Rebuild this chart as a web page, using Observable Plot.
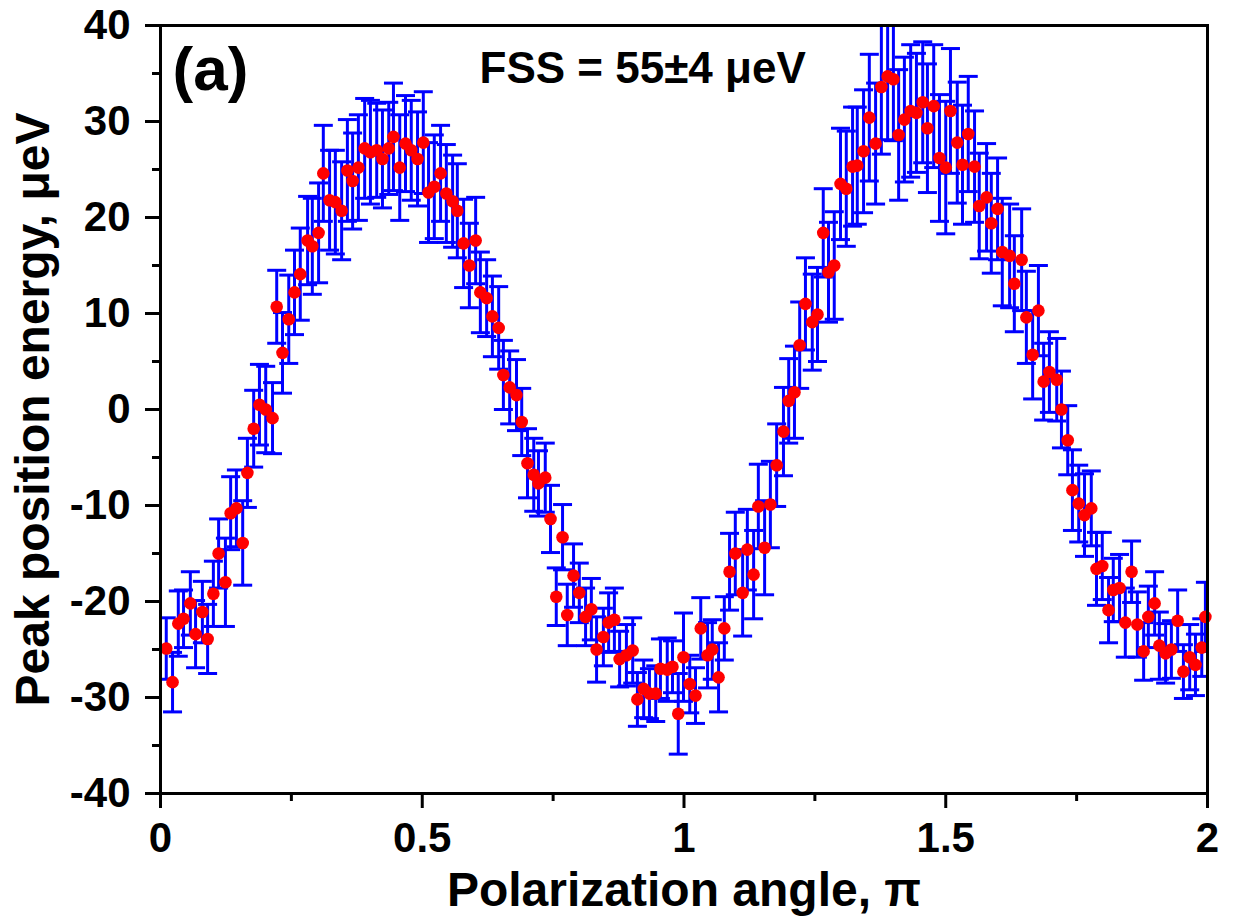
<!DOCTYPE html>
<html>
<head>
<meta charset="utf-8">
<script src="https://cdn.jsdelivr.net/npm/d3@7"></script>
<script src="https://cdn.jsdelivr.net/npm/@observablehq/plot@0.6"></script>
<style>
  html, body { margin: 0; padding: 0; background: #ffffff; }
  #chart { width: 1236px; height: 924px; }
</style>
</head>
<body>
<div id="chart"></div>
<script>
// Polarization angle (units of π)
const angle = [
  0.011,0.023,0.034,0.044,0.057,0.067,0.080,0.090,0.101,0.111,
  0.124,0.134,0.145,0.157,0.166,0.178,0.189,0.201,0.214,0.222,0.233,0.245,0.256,0.267,0.281,0.290,0.302,
  0.311,0.323,0.334,0.346,0.357,0.367,0.378,0.390,0.401,0.413,0.424,0.436,0.445,0.457,0.468,0.479,0.491,0.502,0.512,0.523,0.535,0.546,0.558,0.567,
  0.579,0.590,0.602,0.611,0.623,0.634,0.646,0.655,0.667,0.680,0.690,0.701,0.713,0.722,0.735,0.745,
  0.756,0.768,0.777,0.789,0.800,0.812,0.823,0.833,0.846,0.856,0.867,0.877,0.890,0.902,0.911,0.923,0.934,0.946,0.955,0.968,0.978,0.989,0.999,1.011,1.022,1.032,1.045,1.054,1.066,1.077,
  1.087,1.098,1.112,1.121,1.133,1.142,1.154,1.165,1.177,1.190,1.200,1.211,1.221,1.232,1.245,1.255,1.266,1.276,1.287,
  1.299,1.310,1.322,1.331,1.343,1.354,1.366,1.377,1.389,1.400,1.410,1.421,1.433,1.444,1.456,1.465,1.477,1.488,1.500,1.509,1.522,1.532,1.543,1.555,
  1.564,1.578,1.587,1.599,1.608,1.622,1.631,1.645,1.654,1.666,1.677,1.687,1.698,1.712,1.721,1.733,1.742,1.754,1.765,1.778,1.788,1.799,
  1.811,1.820,1.832,1.843,1.855,1.866,1.878,1.887,1.899,1.908,1.920,1.931,1.943,1.954,1.966,1.977,1.989,1.996
];
// Peak position energy (µeV)
const energy = [
  -24.9,-28.4,-22.3,-21.8,-20.2,-23.4,-21.1,-23.9,-19.2,-15.0,
  -18.0,-10.8,-10.3,-13.9,-6.6,-2.0,0.5,0.0,-0.9,10.7,5.9,9.4,12.2,14.1,17.6,17.0,18.4,
  24.6,21.8,21.6,20.7,24.9,23.8,25.2,27.2,26.8,27.0,26.1,27.2,28.4,25.2,27.7,27.0,26.1,27.8,22.6,23.2,24.6,22.5,21.7,20.7,
  17.3,15.0,17.6,12.2,11.6,9.7,8.5,3.6,2.3,1.5,-1.3,-5.6,-6.8,-7.7,-7.1,-11.4,
  -19.5,-13.3,-21.4,-17.3,-19.1,-21.6,-20.8,-25.0,-23.7,-22.2,-21.9,-26.0,-25.6,-25.1,-30.2,-29.1,-29.6,-29.6,-27.0,-27.1,-26.8,-31.7,-25.8,-28.6,-29.8,-22.8,-25.6,-25.0,-27.9,-22.8,
  -16.9,-15.0,-19.1,-14.6,-17.2,-10.1,-14.4,-9.9,-5.8,-2.3,0.9,1.8,6.7,11.0,9.1,9.9,18.4,14.3,15.0,
  23.5,23.0,25.3,25.4,26.9,30.4,27.7,33.6,34.7,34.4,28.6,30.2,31.1,30.9,32.0,29.3,31.6,26.2,25.2,31.1,27.8,25.5,28.7,25.3,
  21.2,22.1,19.4,20.9,16.4,16.0,13.1,15.6,9.6,5.7,10.3,2.9,3.9,3.1,0.0,-3.2,-8.4,-9.8,-11.0,-10.3,-16.6,-16.3,
  -20.9,-18.8,-18.6,-22.2,-16.9,-22.4,-25.2,-21.6,-20.2,-24.6,-25.4,-25.0,-22.0,-27.3,-25.8,-26.6,-24.8,-21.6
];
// Error (± µeV)
const errorBar = [
  3.2,3.1,3.4,3.0,3.3,3.5,3.2,3.6,3.4,3.6,
  4.6,3.8,4.0,4.4,3.6,4.0,4.2,4.5,3.7,3.8,4.2,4.6,4.4,4.8,4.6,5.0,5.2,
  5.0,5.2,5.4,5.1,5.3,5.0,5.5,5.2,5.4,4.9,5.1,4.8,5.6,5.5,5.0,5.2,4.9,5.3,5.2,5.4,5.0,5.1,4.8,4.9,
  4.6,4.4,4.5,4.2,4.0,4.2,4.3,3.6,3.8,3.7,3.5,3.6,3.8,3.4,3.6,3.5,
  3.0,3.4,3.2,3.3,3.1,3.0,3.2,3.4,3.0,3.1,3.3,2.9,3.2,3.4,2.8,3.0,2.6,2.9,3.1,3.3,2.7,4.2,4.6,3.0,2.9,3.2,3.4,3.1,3.6,3.3,
  4.0,4.3,4.5,4.2,4.6,4.4,4.9,4.5,4.3,4.6,4.4,4.8,4.5,4.8,5.0,4.9,4.6,5.2,5.6,
  5.8,6.0,6.2,6.1,6.4,6.6,6.3,7.0,6.6,6.4,6.8,6.5,6.9,6.2,6.3,6.7,6.4,6.6,6.9,6.5,6.3,6.2,6.0,5.8,
  5.5,5.6,5.2,5.3,5.6,5.4,5.0,5.3,4.8,4.6,4.7,4.0,4.2,4.3,4.0,3.6,4.2,4.0,4.3,3.9,3.8,3.5,
  3.4,3.3,3.5,3.6,3.2,3.4,3.0,3.2,3.3,3.5,3.1,3.0,3.2,2.8,3.4,3.2,3.0,3.6
];
const xMajorTicks = [0, 0.5, 1, 1.5, 2];
const xMinorTicks = [0.25, 0.75, 1.25, 1.75];
const yMajorTicks = [-40, -30, -20, -10, 0, 10, 20, 30, 40];
const yMinorTicks = [-35, -25, -15, -5, 5, 15, 25, 35];
const panelLabel = "(a)";
const fssLabel = "FSS = 55±4 μeV";
const xLabel = "Polarization angle, π";
const yLabel = "Peak position energy, μeV";

const data = angle.map((a, i) => ({
  x: a, y: energy[i], lo: energy[i] - errorBar[i], hi: energy[i] + errorBar[i]
}));

const capSymbol = {
  draw(context) { context.moveTo(-9.5, 0); context.lineTo(9.5, 0); }
};

const blue = "#0000ff";
const red = "#ff0000";

const chart = Plot.plot({
  width: 1236,
  height: 924,
  marginLeft: 160,
  marginRight: 29,
  marginTop: 25,
  marginBottom: 131,
  style: {
    fontFamily: "'Liberation Sans', Arial, sans-serif",
    fontWeight: "bold",
    fontSize: "42px",
    background: "#ffffff",
    color: "#000000"
  },
  x: { domain: [0, 2] },
  y: { domain: [-40, 40] },
  marks: [
    Plot.ruleX(data, { x: "x", y1: "lo", y2: "hi", stroke: blue, strokeWidth: 3, clip: true }),
    Plot.dot(data, { x: "x", y: "lo", symbol: capSymbol, stroke: blue, fill: "none", strokeWidth: 3, clip: true }),
    Plot.dot(data, { x: "x", y: "hi", symbol: capSymbol, stroke: blue, fill: "none", strokeWidth: 3, clip: true }),
    Plot.dot(data, { x: "x", y: "y", r: 6.3, fill: red, stroke: "none" }),
    Plot.frame({ stroke: "#000", strokeWidth: 3 }),
    Plot.axisX({ ticks: xMajorTicks, tickSize: 15, tickPadding: 14, tickFormat: d => String(d), fontSize: 42, strokeWidth: 3, label: null }),
    Plot.axisX({ ticks: xMinorTicks, tickSize: 8, tickFormat: () => "", strokeWidth: 3, label: null }),
    Plot.axisY({ ticks: yMajorTicks, tickSize: 15, tickPadding: 15, tickFormat: d => String(d), fontSize: 42, strokeWidth: 3, label: null }),
    Plot.axisY({ ticks: yMinorTicks, tickSize: 8, tickFormat: () => "", strokeWidth: 3, label: null }),
    Plot.text([panelLabel], { frameAnchor: "top-left", dx: 12, dy: 45, textAnchor: "start", lineAnchor: "middle", fontSize: 62, fontWeight: "bold", fill: "#000" }),
    Plot.text([fssLabel], { frameAnchor: "top-left", dx: 319, dy: 43, textAnchor: "start", lineAnchor: "middle", fontSize: 44, fontWeight: "bold", fill: "#000" }),
    Plot.text([xLabel], { frameAnchor: "bottom", dy: 112, textAnchor: "middle", lineAnchor: "bottom", fontSize: 48, fontWeight: "bold", fill: "#000" }),
    Plot.text([yLabel], { frameAnchor: "left", dx: -127, rotate: -90, textAnchor: "middle", lineAnchor: "middle", fontSize: 48, fontWeight: "bold", fill: "#000" })
  ]
});
document.getElementById("chart").appendChild(chart);
</script>
</body>
</html>
